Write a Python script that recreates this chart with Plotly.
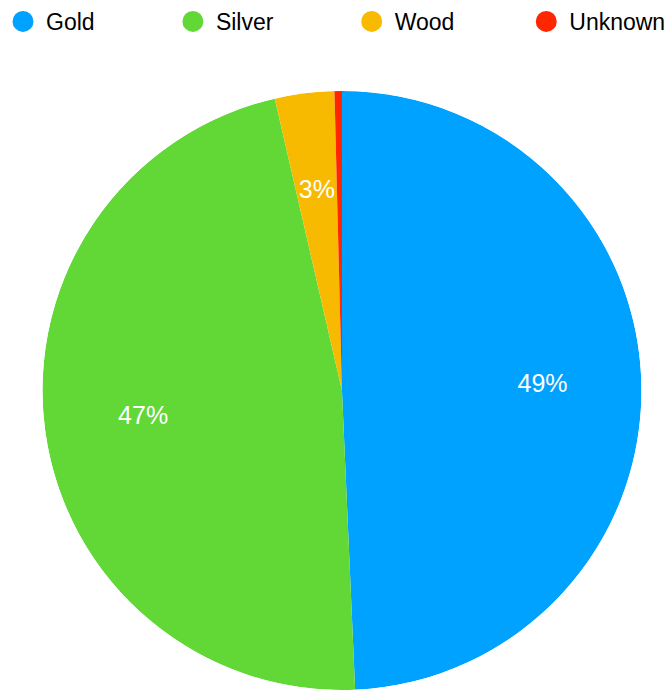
import plotly.graph_objects as go

categories = ["Gold", "Silver", "Wood", "Unknown"]
values = [49.3, 47.1, 3.2, 0.4]
colors = ["#00A2FF", "#61D836", "#F8BA00", "#FF2600"]
show_label = [True, True, True, False]
legend_pad = [11, 11, 10, 0]

total = sum(values)
widths = [v / total * 360 for v in values]
mids = []
acc = 0.0
for w in widths:
    mids.append(acc + w / 2)
    acc += w
labels = [f"{round(v / total * 100)}%" if s else "" for v, s in zip(values, show_label)]

fig = go.Figure()
fig.add_trace(go.Barpolar(
    r=[1] * len(values),
    theta=mids,
    width=widths,
    marker=dict(color=colors, line=dict(width=0)),
    customdata=[round(v / total * 100, 1) for v in values],
    text=categories,
    hovertemplate="%{text}: %{customdata}%<extra></extra>",
    showlegend=False,
))
fig.add_trace(go.Scatterpolar(
    r=[0.67] * len(values),
    theta=mids,
    mode="text",
    text=labels,
    textfont=dict(color="white", size=25, family="Liberation Sans"),
    hoverinfo="skip",
    showlegend=False,
))

for name, col, pad in zip(categories, colors, legend_pad):
    fig.add_trace(go.Scatter(
        x=[None], y=[None], mode="markers",
        name=name + "\u00a0" * pad,
        marker=dict(symbol="circle", size=16, color=col, line=dict(color=col, width=5)),
        showlegend=True,
    ))

fig.update_layout(
    width=671, height=690,
    margin=dict(l=0, r=0, t=0, b=0),
    paper_bgcolor="white",
    plot_bgcolor="white",
    xaxis=dict(visible=False),
    yaxis=dict(visible=False),
    font=dict(family="Liberation Sans", color="black"),
    polar=dict(
        domain=dict(x=[0.0633, 0.9560], y=[0.0, 0.8681]),
        bgcolor="rgba(0,0,0,0)",
        bargap=0,
        angularaxis=dict(visible=False, rotation=90, direction="clockwise",
                         showgrid=False, showline=False),
        radialaxis=dict(visible=False, range=[0, 1], showgrid=False, showline=False),
    ),
    legend=dict(
        orientation="h",
        x=0.012, y=1, xanchor="left", yanchor="top",
        itemwidth=36,
        font=dict(size=23, family="Liberation Sans", color="black"),
        bgcolor="rgba(0,0,0,0)",
        itemclick=False,
    ),
)

fig.write_html("out.html")
